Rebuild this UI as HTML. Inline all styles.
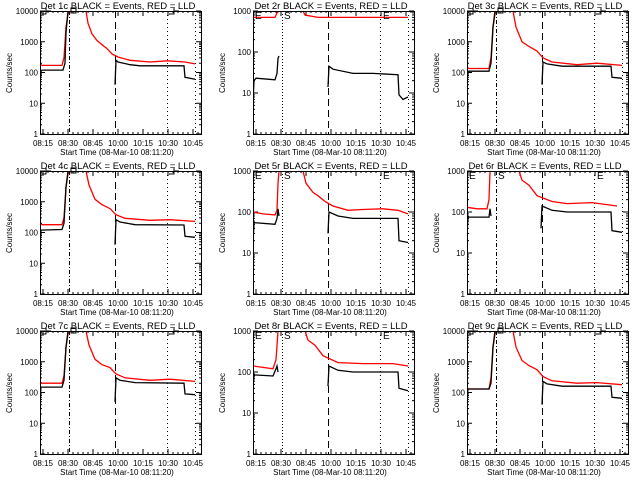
<!DOCTYPE html>
<html><head><meta charset="utf-8">
<style>
html,body{margin:0;padding:0;background:#fff;}
svg{display:block;}
text{font-family:"Liberation Sans",sans-serif;fill:#000;}
</style></head>
<body>
<svg id="fig" width="640" height="480" viewBox="0 0 640 480"></svg>
<script>
// ---- data (time units: axis minutes-offset, 0 = left edge of plot; null splits segments) ----
const detNames = ["1c","2r","3c","4c","5r","6r","7c","8r","9c"];
const yMaxDecades = [4,3,4,4,3,3,4,3,4];
const xTickLabels = ["08:15","08:30","08:45","10:00","10:15","10:30","10:45"];
const xTickPos = [3,28,53,78,103,128,153];
const markerTimes = [29,75,127,155];

const t1B=[0,1,2,23,25,26,28,null,75,76,78,90,100,144,145,150,155];
const v1B=[50,110,120,120,200,2000,10000,null,40,250,220,180,165,165,70,65,60];
const t1R=[0,2,22,24,26,28,29,null,46,48,52,57,62,67,72,78,90,110,127,145,155];
const v1R=[190,170,170,300,3000,8000,10000,null,10000,4000,1800,1100,800,600,400,320,250,220,240,220,190];

const t2B=[0,1,3,22,24,25,26,null,75,76,80,100,120,145,146,150,155];
const v2B=[6,20,23,21,30,70,80,null,14,45,38,30,30,28,9,7,8];
const t2R=[0,22,24,26,null,50,52,65,155];
const v2R=[700,700,900,1000,null,1000,800,700,700];

const t3B=[0,1,22,24,26,28,null,75,76,80,95,144,145,155];
const v3B=[50,110,110,200,3000,10000,null,40,220,190,160,160,70,65];
const t3R=[0,2,22,24,26,28,29,null,46,49,55,62,70,76,85,110,130,155];
const v3R=[150,135,135,300,3000,8000,10000,null,10000,3000,1000,700,500,300,220,180,200,170];

const t4B=[0,1,22,24,26,28,null,75,76,80,95,144,145,155];
const v4B=[50,120,125,200,3000,10000,null,40,260,220,180,175,75,70];
const t4R=[0,2,22,24,26,28,29,null,46,49,55,62,70,76,85,110,130,155];
const v4R=[200,180,180,300,3000,8000,10000,null,10000,3500,1200,800,600,380,290,250,260,230];

const t5B=[0,1,22,24,25,26,null,75,76,85,100,145,146,155];
const v5B=[15,55,50,70,120,80,null,30,100,80,70,70,20,18];
const t5R=[0,10,22,24,25,26,null,50,53,60,65,72,80,95,110,130,145,155];
const v5R=[100,90,85,110,500,1000,null,1000,500,300,250,180,140,110,115,120,110,90];

const t6B=[0,1,22,23,24,null,74,75,85,100,144,145,155];
const v6B=[30,75,75,120,80,null,40,140,110,100,100,35,32];
const t6R=[0,10,20,22,23,null,52,55,62,70,85,100,125,150];
const v6R=[130,120,120,200,1000,null,1000,600,450,250,180,160,170,140];

const t7B=[0,1,22,24,26,28,null,75,76,80,95,144,145,155];
const v7B=[60,150,150,250,3000,10000,null,50,300,250,210,200,90,85];
const t7R=[0,2,22,24,26,28,29,null,46,49,55,62,70,76,85,110,130,155];
const v7R=[220,200,200,350,3000,8000,10000,null,10000,3500,1200,800,650,400,300,250,270,230];

const t8B=[0,1,20,23,24,25,null,75,76,85,100,145,146,155];
const v8B=[40,85,80,120,140,100,null,45,140,110,100,100,40,35];
const t8R=[0,20,23,25,null,52,55,62,70,85,110,140,155];
const v8R=[140,120,200,1000,null,1000,600,450,250,170,160,160,140];

const t9B=[0,1,22,24,26,28,null,75,76,80,95,144,145,155];
const v9B=[50,130,130,200,3000,10000,null,40,230,190,160,160,70,65];
const t9R=[0,2,22,24,26,28,29,null,46,49,55,62,70,76,85,110,130,155];
const v9R=[140,130,130,300,3000,8000,10000,null,10000,3000,1100,750,550,330,240,200,210,180];

const allTB=[t1B,t2B,t3B,t4B,t5B,t6B,t7B,t8B,t9B];
const allVB=[v1B,v2B,v3B,v4B,v5B,v6B,v7B,v8B,v9B];
const allTR=[t1R,t2R,t3R,t4R,t5R,t6R,t7R,t8R,t9R];
const allVR=[v1R,v2R,v3R,v4R,v5R,v6R,v7R,v8R,v9R];

const NS="http://www.w3.org/2000/svg";
const fig=document.getElementById('fig');
function mk(tag,attrs,parent){const e=document.createElementNS(NS,tag);for(const k in attrs)e.setAttribute(k,attrs[k]);(parent||fig).appendChild(e);return e;}

for(let p=0;p<9;p++){
  const ox=[0,213,427][p%3], oy=[0,160,320][Math.floor(p/3)];
  const L=ox+40,R=ox+201,T=oy+11,B=oy+134;
  const dec=yMaxDecades[p];
  const xS=t=>L+t*(R-L)/161;
  const yS=v=>B-Math.log10(Math.max(v,1))*(B-T)/dec;
  const g=mk('g',{});
  
  
  const clip=mk('clipPath',{id:'c'+p},g);mk('rect',{x:L,y:T,width:R-L,height:B-T},clip);

  const ti=mk('text',{x:ox+118,y:oy+9,'font-size':9.5,'text-anchor':'middle'},g);
  ti.textContent='Det '+detNames[p]+' BLACK = Events, RED = LLD';
  
  
  const yl=mk('text',{x:ox+12,y:oy+73,'font-size':8,'text-anchor':'middle',transform:'rotate(-90 '+(ox+12)+' '+(oy+73)+')'},g);
  yl.textContent='Counts/sec';
  
  
  const xl=mk('text',{x:ox+117,y:oy+155,'font-size':8,'text-anchor':'middle'},g);
  xl.textContent='Start Time (08-Mar-10 08:11:20)';
  
  

  for(let d=0;d<=dec;d++){
    const y=yS(Math.pow(10,d));
    mk('line',{x1:L,x2:L+5,y1:y,y2:y,stroke:'#000'},g);
    mk('line',{x1:R,x2:R-5,y1:y,y2:y,stroke:'#000'},g);
    const tl=mk('text',{x:L-2,y:y+3,'font-size':8,'text-anchor':'end'},g);
    tl.textContent=String(Math.pow(10,d));
    
    
    if(d<dec)for(let m=2;m<10;m++){const ym=yS(m*Math.pow(10,d));
      mk('line',{x1:L,x2:L+2,y1:ym,y2:ym,stroke:'#000'},g);mk('line',{x1:R,x2:R-2,y1:ym,y2:ym,stroke:'#000'},g);}
  }
  for(let i=0;i<xTickPos.length;i++){
    const x=xS(xTickPos[i]);
    mk('line',{x1:x,x2:x,y1:B,y2:B-5,stroke:'#000'},g);
    mk('line',{x1:x,x2:x,y1:T,y2:T+5,stroke:'#000'},g);
    const tl=mk('text',{x:x,y:oy+146,'font-size':8,'text-anchor':'middle'},g);
    tl.textContent=xTickLabels[i];
    
    
  }
  for(let t=8;t<161;t+=5){if((t-3)%25===0)continue;const x=xS(t);
    mk('line',{x1:x,x2:x,y1:B,y2:B-2,stroke:'#000'},g);mk('line',{x1:x,x2:x,y1:T,y2:T+2,stroke:'#000'},g);}

  const isR=detNames[p].endsWith('r')&&p!==5;
  const dashes=[isR?'1,2':'4,2,1,2','7,4','1,3','1,3'];
  markerTimes.forEach((mt,i)=>{const x=Math.round(xS(mt))+0.5;
    const ml=mk('line',{x1:x,x2:x,y1:T,y2:B,stroke:'#000','stroke-dasharray':dashes[i]},g);
    
    });

  function draw(ts,vs,col,name){
    let d='',pen=false;
    for(let i=0;i<ts.length;i++){
      if(ts[i]===null){pen=false;continue;}
      d+=(pen?'L':'M')+xS(ts[i]).toFixed(1)+' '+yS(vs[i]).toFixed(1);pen=true;
    }
    const pth=mk('path',{d:d,fill:'none',stroke:col,'stroke-width':1.3,'clip-path':'url(#c'+p+')'},g);
    
    
  }
  draw(allTR[p],allVR[p],'#ff0000','lld-series-red');
  draw(allTB[p],allVB[p],'#000','events-series-black');

  const labs=['E','S','E'];
  const lx=[2,31,130];
  if(isR||p===5){labs.forEach((s,i)=>{const tx=mk('text',{x:L+lx[i],y:T+8,'font-size':10},g);tx.textContent=s;
    });}
  else{[[2],[130]].forEach(a=>{const x=L+a[0];mk('path',{d:'M'+(x+4)+' '+(T-3)+'V'+(T+3)+'H'+(x-1)+'M'+(x+4)+' '+T+'H'+(x+9),fill:'none',stroke:'#000'},g);});
    mk('rect',{x:L+31,y:T-3,width:5,height:5,fill:'none',stroke:'#000'},g);}

  const fr=mk('rect',{x:L+0.5,y:T+0.5,width:R-L,height:B-T,fill:'none',stroke:'#000'},g);
  
  
}
</script>
</body></html>
